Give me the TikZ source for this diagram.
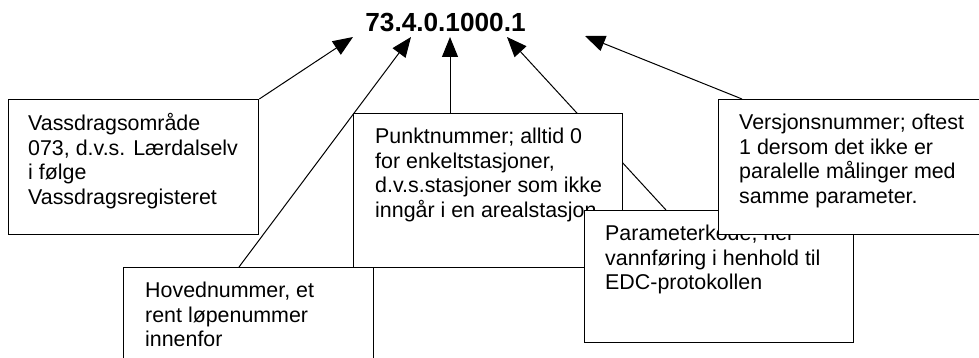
\documentclass[tikz,border=0pt]{standalone}
\usepackage{fontspec}
\setmainfont{Liberation Sans}
\usetikzlibrary{arrows.meta}
\pgfdeclarelayer{bg}
\pgfsetlayers{bg,main}

\tikzset{
  box/.style={draw, fill=white, line width=1.3pt, anchor=north west, inner sep=0pt},
  txt/.style={anchor=north west, align=left, inner sep=0pt, font=\fontsize{21.4}{24.6}\selectfont},
  arr/.style={-{Triangle[length=20pt,width=16pt]}, line width=1pt},
}

\begin{document}
\begin{tikzpicture}[x=1pt, y=-1pt]
\clip (0,0) rectangle (979,358);
\node[inner sep=0pt, font=\fontsize{26.2}{30}\selectfont\bfseries] (code) at (445.5,22.5) {73.4.0.1000.1};
\coordinate (t73) at (353,37);
\coordinate (t4) at (411,37);
\coordinate (t0) at (450,37);
\coordinate (t1000) at (507,37);
\coordinate (t1) at (585,36);

\node[box, minimum width=250pt, minimum height=135pt] (vbox) at (8,99) {};
\node[txt] (vtxt) at ([shift={(20pt,-14pt)}]vbox.north west) {Vassdragsområde\\073, d.v.s. Lærdalselv\\i følge\\Vassdragsregisteret};
\draw[arr] (vbox.north east) -- (t73);

\node[box, minimum width=250pt, minimum height=135pt] (hbox) at (123,267) {};
\node[txt] (htxt) at ([shift={(22pt,-15pt)}]hbox.north west) {Hovednummer, et\\rent løpenummer\\innenfor};
\draw[arr] ([xshift=116pt]hbox.north west) -- (t4);

\node[box, minimum width=269pt, minimum height=154pt] (pbox) at (353,113) {};
\node[txt] (ptxt) at ([shift={(22pt,-15pt)}]pbox.north west) {Punktnummer; alltid 0\\for enkeltstasjoner,\\d.v.s.stasjoner som ikke\\inngår i en arealstasjon};
\draw[arr] ([xshift=97pt]pbox.north west) -- (t0);

\node[box, minimum width=269pt, minimum height=132pt] (kbox) at (584,210) {};
\node[txt] (ktxt) at ([shift={(21pt,-15pt)}]kbox.north west) {Parameterkode, her\\vannføring i henhold til\\EDC-protokollen};
\begin{pgfonlayer}{bg}
\draw[arr] ([xshift=82pt]kbox.north west) -- (t1000);
\end{pgfonlayer}

\node[box, minimum width=269pt, minimum height=135pt] (rbox) at (718,99) {};
\node[txt] (rtxt) at ([shift={(21pt,-15pt)}]rbox.north west) {Versjonsnummer; oftest\\1 dersom det ikke er\\paralelle målinger med\\samme parameter.};
\draw[arr] ([xshift=24pt]rbox.north west) -- (t1);
\end{tikzpicture}
\end{document}
